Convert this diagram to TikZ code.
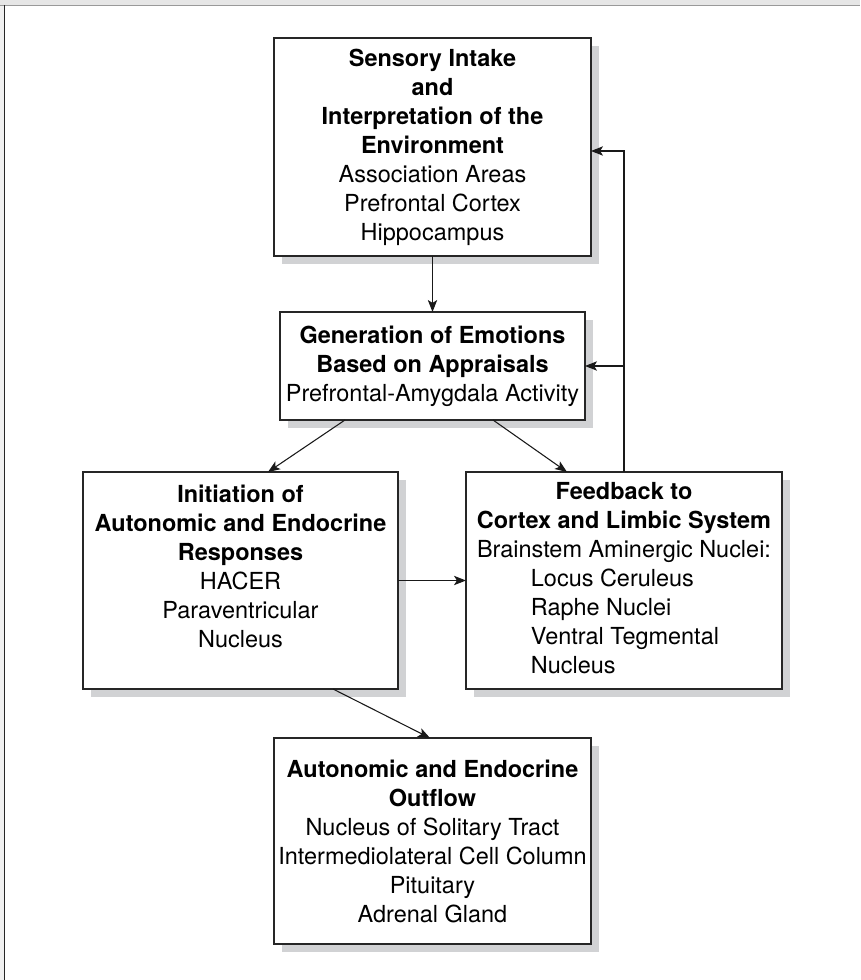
\documentclass[tikz,border=0pt]{standalone}
\usepackage{fontspec}
\setmainfont{TeX Gyre Heros}
\usetikzlibrary{arrows.meta,calc,shadows}
\definecolor{shade}{HTML}{D1D2D4}
\definecolor{edgegray}{HTML}{E6E6E6}
\begin{document}
\begin{tikzpicture}[x=0.75pt,y=-0.75pt,
  box/.style={draw=black!85,line width=1.1pt,fill=white,rectangle,
    inner sep=0pt,outer sep=0pt,align=center,
    font=\fontsize{17.6}{21.75}\selectfont,
    drop shadow={shadow xshift=6pt,shadow yshift=-6pt,fill=shade,opacity=1}},
  arr/.style={draw=black!90,line width=0.8pt,
    -{Stealth[length=9pt,width=7pt,inset=2.2pt]}},
  link/.style={draw=black!90,line width=0.8pt}]
% page area and its edge
\useasboundingbox (0,0) rectangle (860,980);
\fill[white] (0,0) rectangle (860,980);
\fill[edgegray] (0,0) rectangle (860,5);
\fill[edgegray!60] (0,5) rectangle (4,980);
\draw[black!40,line width=0.8pt] (0,5.5) -- (860,5.5);
\draw[black!85,line width=1.2pt] (4.5,5) -- (4.5,980);

% boxes
\node[box,minimum width=237.75pt,minimum height=163.5pt] (intake) at (432.5,147)
  {\textbf{Sensory Intake}\\\textbf{and}\\\textbf{Interpretation of the}\\\textbf{Environment}\\
   Association Areas\\Prefrontal Cortex\\Hippocampus};
\node[box,minimum width=228.75pt,minimum height=81pt] (emot) at (432.5,366)
  {\textbf{Generation of Emotions}\\\textbf{Based on Appraisals}\\Prefrontal-Amygdala Activity};
\node[box,minimum width=236.25pt,minimum height=162.75pt] (init) at (240.5,580.5)
  {\textbf{Initiation of}\\\textbf{Autonomic and Endocrine}\\\textbf{Responses}\\HACER\\
   Paraventricular\\Nucleus\\\mbox{}};
\node[box,minimum width=237pt,minimum height=162.75pt] (feed) at (624,580.5)
  {\renewcommand\arraystretch{1}%
   \begin{tabular}{@{}l@{}}
   \multicolumn{1}{@{}c@{}}{\textbf{Feedback to}}\\
   \multicolumn{1}{@{}c@{}}{\textbf{Cortex and Limbic System}}\\
   \multicolumn{1}{@{}c@{}}{Brainstem Aminergic Nuclei:}\\
   \hspace{40.5pt}Locus Ceruleus\\
   \hspace{40.5pt}Raphe Nuclei\\
   \hspace{40.5pt}Ventral Tegmental\\
   \hspace{40.5pt}Nucleus
   \end{tabular}};
\node[box,minimum width=237.75pt,minimum height=154.5pt] (outflow) at (432.5,841)
  {\textbf{Autonomic and Endocrine}\\\textbf{Outflow}\\Nucleus of Solitary Tract\\
   Intermediolateral Cell Column\\Pituitary\\Adrenal Gland};

% connectors
\draw[arr] (intake.south) -- (emot.north);
\draw[arr] ($(emot.south west)+(65,0)$) -- ($(init.north)+(27.5,0)$);
\draw[arr] ($(emot.south east)+(-92,0)$) -- ($(feed.north west)+(101,0)$);
\coordinate (fbtop) at ($(feed.north west)+(158,0)$);
\draw[arr] (fbtop) |- ($(intake.north east)+(0,113)$);
\draw[arr] (fbtop |- emot.east) -- (emot.east);
\draw[arr] (init.east) -- (init.east -| feed.west);
\draw[arr] ($(init.south east)+(-65,0)$) -- ($(outflow.north)+(-2.5,0)$);
\end{tikzpicture}
\end{document}
